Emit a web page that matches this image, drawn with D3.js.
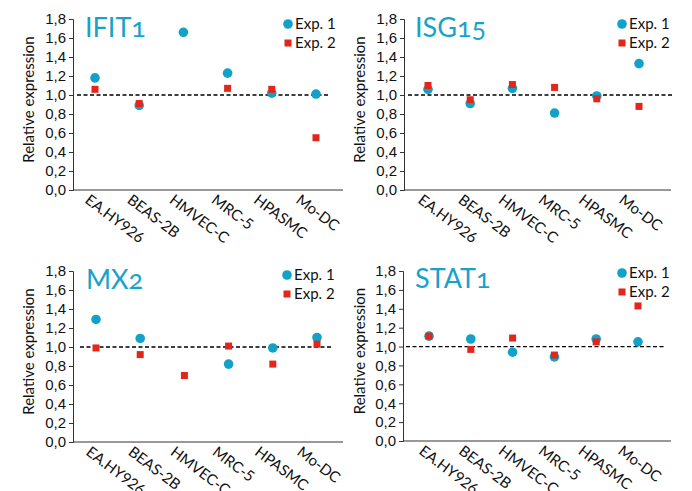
<!DOCTYPE html>
<meta charset="utf-8">
<style>
body { margin: 0; background: #fff; }
svg { font-family: Lato, "Open Sans", sans-serif; }
.tick text { font-size: 15px; fill: #111; }
.gene { font-size: 27px; fill: #17a3c9; font-variant-numeric: oldstyle-nums; }
</style>
<body>
<script src="https://cdn.jsdelivr.net/npm/d3@7"></script>
<script>
var width = 692
var height = 491

var cells = ['EA.HY926', 'BEAS-2B', 'HMVEC-C', 'MRC-5', 'HPASMC', 'Mo-DC']
var yTicks = [0, 0.2, 0.4, 0.6, 0.8, 1.0, 1.2, 1.4, 1.6, 1.8]
var genes = ['IFIT1', 'ISG15', 'MX2', 'STAT1']
var seriesNames = ['Exp. 1', 'Exp. 2']

// null = no point for that cell line
var ifit1Exp1 = [1.18, 0.89, 1.66, 1.23, 1.02, 1.01]
var ifit1Exp2 = [1.06, 0.91, null, 1.07, 1.06, 0.55]
var isg15Exp1 = [1.06, 0.91, 1.07, 0.81, 0.99, 1.33]
var isg15Exp2 = [1.10, 0.95, 1.11, 1.08, 0.96, 0.88]
var mx2Exp1 = [1.29, 1.09, null, 0.82, 0.99, 1.10]
var mx2Exp2 = [0.99, 0.92, 0.70, 1.01, 0.82, 1.03]
var stat1Exp1 = [1.11, 1.08, 0.94, 0.89, 1.08, 1.05]
var stat1Exp2 = [1.11, 0.97, 1.09, 0.91, 1.05, 1.43]

var panelData = [
    [ifit1Exp1, ifit1Exp2],
    [isg15Exp1, isg15Exp2],
    [mx2Exp1, mx2Exp2],
    [stat1Exp1, stat1Exp2]
]

// pixel layout of each panel
var layout = [
    { x0: 73, x1: 343, first: 95, last: 316, top: 19, bottom: 190, dash: [77, 330], title: [85, 37], legend: [288, 24], ylab: 29 },
    { x0: 404, x1: 671, first: 428, last: 639, top: 19, bottom: 190, dash: [408, 672], title: [415, 37], legend: [622, 24], ylab: 360 },
    { x0: 73, x1: 343, first: 96, last: 317, top: 271, bottom: 442, dash: [80, 333], title: [86, 289], legend: [287, 275], ylab: 29 },
    { x0: 403, x1: 671, first: 429, last: 638, top: 271, bottom: 441, dash: [406, 664], title: [415, 288], legend: [622, 273], ylab: 360 }
]

var blue = '#12a1c8'
var red = '#e2261a'

var svg = d3.select('body')
    .append('svg')
    .attr('width', width)
    .attr('height', height)

genes.forEach(function (gene, gi) {
    var L = layout[gi]
    var g = svg.append('g')

    var x = d3.scalePoint().domain(cells).range([L.first, L.last])
    var y = d3.scaleLinear().domain([0, 1.8]).range([L.bottom, L.top])

    // y axis
    var yAxis = g.append('g')
        .attr('transform', 'translate(' + L.x0 + ',0)')
        .call(d3.axisLeft(y).tickValues(yTicks).tickSize(4).tickPadding(3)
            .tickFormat(function (d) { return d3.format('.1f')(d).replace('.', ',') }))
    yAxis.selectAll('line, path').attr('stroke', '#333')

    // x axis line
    g.append('line')
        .attr('x1', L.x0).attr('x2', L.x1)
        .attr('y1', L.bottom).attr('y2', L.bottom)
        .attr('stroke', '#333')

    // labels sit a little left of their points, drifting further to the right
    g.selectAll('.xlab')
        .data(cells)
        .enter().append('text')
        .attr('class', 'xlab')
        .attr('transform', function (d, i) {
            return 'translate(' + (x(d) - 11 - i * 2) + ',' + (L.bottom + 12) + ') rotate(37)'
        })
        .style('font-size', '15px')
        .attr('fill', '#111')
        .text(function (d) { return d })

    g.append('text')
        .attr('transform', 'translate(' + L.ylab + ',' + ((L.top + L.bottom) / 2 - 5) + ') rotate(-90)')
        .attr('text-anchor', 'middle')
        .attr('dy', '0.35em')
        .style('font-size', '15px')
        .attr('fill', '#111')
        .text('Relative expression')

    // reference line at 1.0
    g.append('line')
        .attr('x1', L.dash[0]).attr('x2', L.dash[1])
        .attr('y1', y(1)).attr('y2', y(1))
        .attr('stroke', '#000')
        .attr('stroke-width', 1.3)
        .attr('stroke-dasharray', '4,2.5')

    g.append('text')
        .attr('class', 'gene')
        .attr('x', L.title[0]).attr('y', L.title[1])
        .text(gene)

    var s1 = panelData[gi][0]
    var s2 = panelData[gi][1]

    g.selectAll('.exp1')
        .data(s1.map(function (v, i) { return { c: cells[i], v: v } }).filter(function (d) { return d.v !== null }))
        .enter().append('circle')
        .attr('cx', function (d) { return x(d.c) })
        .attr('cy', function (d) { return y(d.v) })
        .attr('r', 4.8)
        .attr('fill', blue)

    g.selectAll('.exp2')
        .data(s2.map(function (v, i) { return { c: cells[i], v: v } }).filter(function (d) { return d.v !== null }))
        .enter().append('rect')
        .attr('x', function (d) { return x(d.c) - 3.5 })
        .attr('y', function (d) { return y(d.v) - 3.5 })
        .attr('width', 7)
        .attr('height', 7)
        .attr('fill', red)

    // legend
    var lg = g.append('g').attr('transform', 'translate(' + L.legend[0] + ',' + L.legend[1] + ')')
    lg.append('circle').attr('r', 4.8).attr('fill', blue)
    lg.append('rect').attr('x', -3.5).attr('y', 19 - 3.5).attr('width', 7).attr('height', 7).attr('fill', red)
    lg.selectAll('text')
        .data(seriesNames)
        .enter().append('text')
        .attr('x', 7)
        .attr('y', function (d, i) { return i * 19 })
        .attr('dy', '0.36em')
        .style('font-size', '15px')
        .attr('fill', '#111')
        .text(function (d) { return d })
})
</script>
</body>
